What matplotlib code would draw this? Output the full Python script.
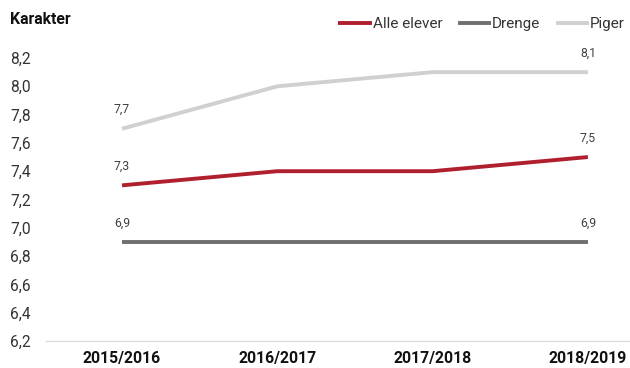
import matplotlib
matplotlib.use("Agg")
import matplotlib.pyplot as plt

years = ["2015/2016", "2016/2017", "2017/2018", "2018/2019"]
alle = [7.3, 7.4, 7.4, 7.5]
drenge = [6.9, 6.9, 6.9, 6.9]
piger = [7.7, 8.0, 8.1, 8.1]
yticks = [6.2, 6.4, 6.6, 6.8, 7.0, 7.2, 7.4, 7.6, 7.8, 8.0, 8.2]

plt.rcParams['font.family'] = ['Roboto', 'DejaVu Sans']

fig = plt.figure(figsize=(6.3, 3.68), dpi=100)
ax = fig.add_axes([46/630, 1-341/368, 584/630, (341-58)/368])

series = [("Alle elever", alle, "#B01F2E"),
          ("Drenge", drenge, "#6F6F6F"),
          ("Piger", piger, "#D0D0D0")]
x = list(range(len(years)))
for name, vals, col in series:
    ax.plot(x, vals, color=col, lw=2.8, label=name, solid_capstyle='butt')
    for i in (0, len(vals)-1):
        lab = f"{vals[i]:.1f}".replace(".", ",")
        ax.annotate(lab, (x[i], vals[i]), xytext=(0, 9), textcoords='offset points',
                    ha='center', va='bottom', fontsize=8.8, color='#404040')

ax.set_xlim(-(122-46)/155.3, -(122-46)/155.3 + 584/155.3)
ax.set_ylim(6.2, 8.2)
ax.set_yticks(yticks)
ax.set_yticklabels([f"{v:.1f}".replace(".", ",") for v in yticks], fontsize=11.2, color='#333333', ha='left')
ax.tick_params(axis='y', length=0, pad=36*72/100)
ax.set_xticks(x)
ax.set_xticklabels(years, fontsize=11.3, fontweight='bold', color='#111111')
ax.tick_params(axis='x', length=0, pad=7)
for s in ['top', 'right', 'left']:
    ax.spines[s].set_visible(False)
ax.spines['bottom'].set_color('#DDDDDD')
ax.spines['bottom'].set_linewidth(1)

fig.text(10/630, 1-20/368, "Karakter", fontsize=11.3, fontweight='bold', color='#111111', va='center', ha='left')

leg = fig.legend(loc='center right', bbox_to_anchor=(631/630, 1-24/368), ncol=3, frameon=False,
                 fontsize=11, handlelength=2.2, handletextpad=0.05, columnspacing=1.0,
                 borderaxespad=0)
for t in leg.get_texts():
    t.set_color('#333333')

fig.savefig("out.png", dpi=100)
